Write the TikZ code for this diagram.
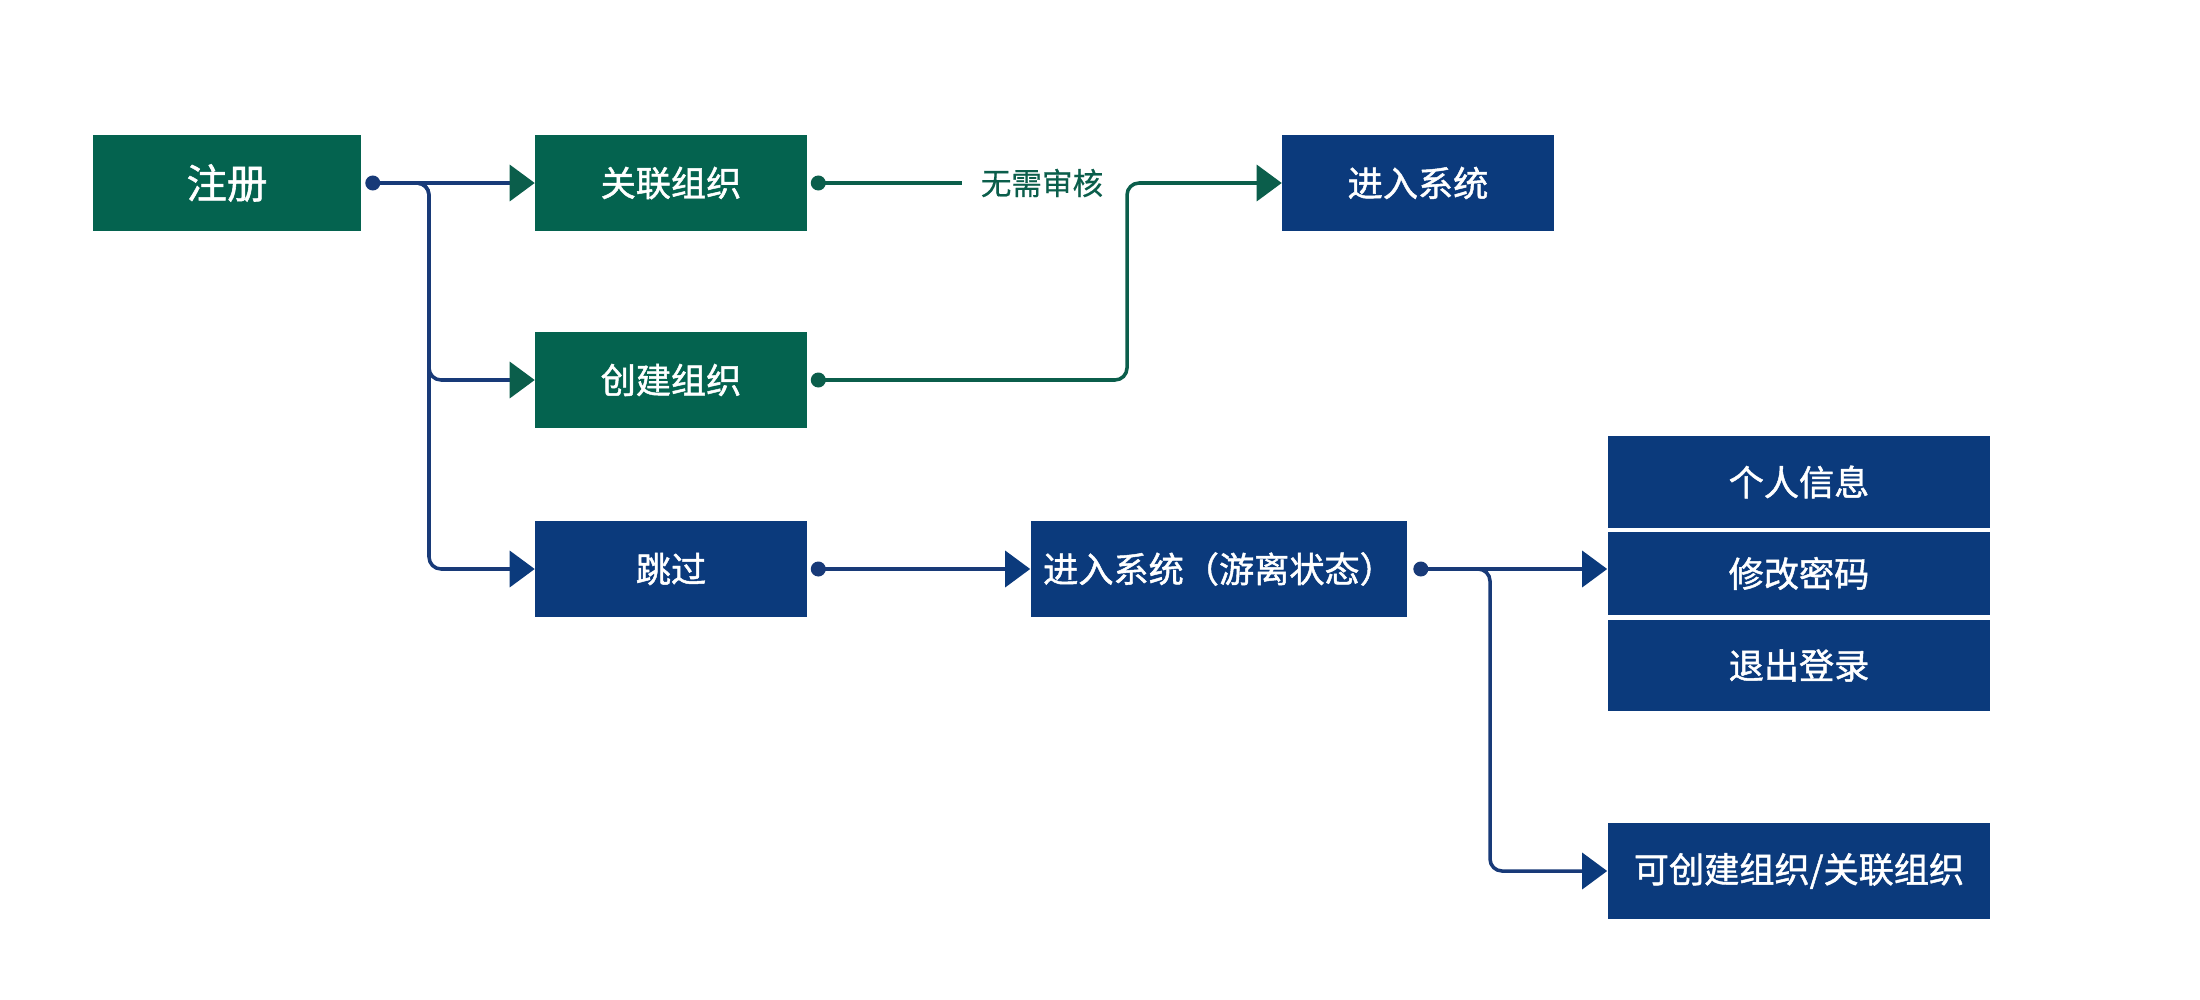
\documentclass[tikz,border=0pt]{standalone}
\usepackage{fontspec}
\newfontfamily\cjk{Noto Sans CJK SC}[FakeBold=1.3]
\newfontfamily\cjklight{Noto Sans CJK SC}[FakeBold=0.5]
\usetikzlibrary{arrows.meta}
\definecolor{gbox}{HTML}{04634F}
\definecolor{bbox}{HTML}{0B3A7C}
\definecolor{gline}{HTML}{0B5E4B}
\definecolor{bline}{HTML}{183A78}
\tikzset{
  box/.style={rectangle, inner sep=0pt, minimum width=2.71cm, minimum height=0.95cm,
    font=\cjk\fontsize{10}{12}\selectfont, text=white},
  gb/.style={box, fill=gbox},
  bb/.style={box, fill=bbox},
  conn/.style={line width=1pt, rounded corners=0.12cm},
  gtip/.style={-{Triangle[length=0.25cm,width=0.36cm,fill=gline,color=gline]}},
  btip/.style={-{Triangle[length=0.25cm,width=0.36cm,fill=bbox,color=bbox]}},
  dotg/.style={fill=gline},
  dotb/.style={fill=bline},
}
\begin{document}
\begin{tikzpicture}[x=0.01cm,y=-0.01cm]
\useasboundingbox[fill=white] (0,0) rectangle (2200,1000);

\node[gb, minimum width=2.68cm, font=\cjk\fontsize{11.5}{13}\selectfont] (reg) at (227,183) {注册};
\node[gb] (glian) at (671,183) {关联组织};
\node[bb] (enter) at (1418,183) {进入系统};
\node[gb] (create) at (671,380) {创建组织};
\node[bb] (skip) at (671,569) {跳过};
\node[bb, minimum width=3.76cm] (free) at (1219,569) {进入系统（游离状态）};
\node[bb, minimum width=3.82cm, minimum height=0.92cm] (info) at (1799,482) {个人信息};
\node[bb, minimum width=3.82cm, minimum height=0.83cm] (pwd) at (1799,573.5) {修改密码};
\node[bb, minimum width=3.82cm, minimum height=0.91cm] (logout) at (1799,665.5) {退出登录};
\node[bb, minimum width=3.82cm] (orgs) at (1799,871) {可创建组织/关联组织};

% dots
\coordinate (d1) at ([xshift=0.11cm]reg.east);
\coordinate (d2) at ([xshift=0.11cm]glian.east);
\coordinate (d3) at ([xshift=0.11cm]create.east);
\coordinate (d4) at ([xshift=0.11cm]skip.east);
\coordinate (d5) at ([xshift=0.13cm]free.east);
\coordinate (b1) at (429,183);
\coordinate (b2) at (1127,183);
\coordinate (b3) at (1490,569);
\coordinate (l1) at (962,183);

% from register
\draw[conn, bline, gtip] (d1) -- (glian.west);
\draw[conn, bline, gtip] (d1) -- (b1) |- (create.west);
\draw[conn, bline, btip] (d1) -- (b1) |- (skip.west);

% associate org -> label
\draw[conn, gline] (d2) -- (l1);
\node[font=\cjklight\fontsize{8.7}{10}\selectfont, text=gline, anchor=center] (lbl) at (1042,183) {无需审核};

% create org -> enter
\draw[conn, gline, gtip] (d3) -| (b2) -- (enter.west);

% skip -> free
\draw[conn, bline, btip] (d4) -- (free.west);

% free -> menu, orgs
\draw[conn, bline, btip] (d5) -- (pwd.west |- d5);
\draw[conn, bline, btip] (d5) -- (b3) |- (orgs.west);

\fill[dotb] (d1) circle (0.075cm);
\fill[dotg] (d2) circle (0.075cm);
\fill[dotg] (d3) circle (0.075cm);
\fill[dotb] (d4) circle (0.075cm);
\fill[dotb] (d5) circle (0.075cm);
\end{tikzpicture}
\end{document}
